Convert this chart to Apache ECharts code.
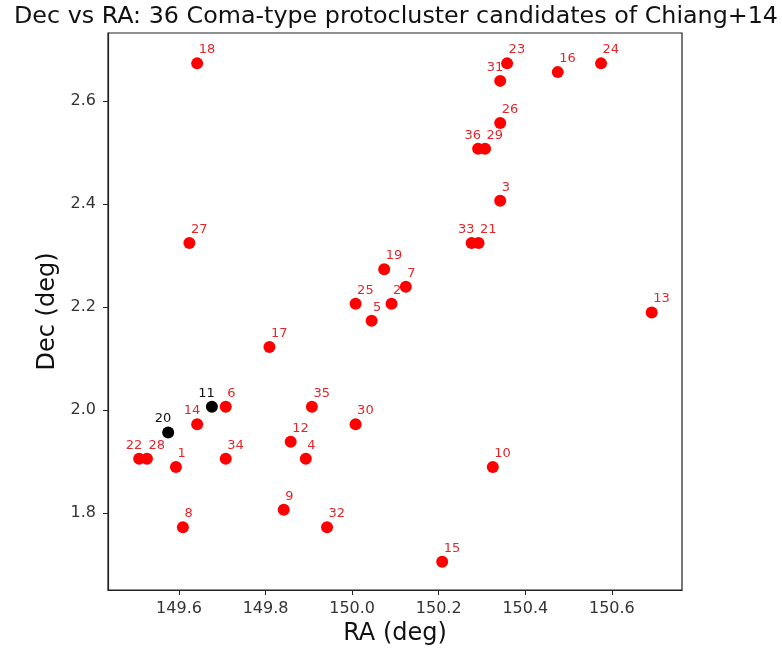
<!DOCTYPE html>
<html>
<head>
<meta charset="utf-8">
<script src="https://cdn.jsdelivr.net/npm/echarts@6/dist/echarts.min.js"></script>
<style>
  html, body { margin: 0; padding: 0; background: #fff; }
  #chart { width: 782px; height: 652px; }
</style>
</head>
<body>
<div id="chart"></div>
<script>
  // candidate numbers, RA and Dec
  var ids = [1, 2, 3, 4, 5, 6, 7, 8, 9, 10, 11, 12, 13, 14, 15, 16, 17, 18,
             19, 20, 21, 22, 23, 24, 25, 26, 27, 28, 29, 30, 31, 32, 33, 34, 35, 36];
  var ra = [149.593, 150.091, 150.342, 149.893, 150.045, 149.708, 150.124, 149.609, 149.842, 150.325,
            149.676, 149.858, 150.692, 149.642, 150.208, 150.475, 149.809, 149.642, 150.074, 149.575,
            150.292, 149.508, 150.358, 150.575, 150.008, 150.342, 149.624, 149.526, 150.307, 150.008,
            150.342, 149.942, 150.276, 149.708, 149.907, 150.291];
  var dec = [1.889, 2.206, 2.406, 1.905, 2.173, 2.006, 2.239, 1.772, 1.806, 1.889,
             2.006, 1.938, 2.189, 1.972, 1.705, 2.656, 2.122, 2.673, 2.273, 1.956,
             2.324, 1.905, 2.673, 2.673, 2.206, 2.557, 2.324, 1.905, 2.507, 1.972,
             2.639, 1.772, 2.324, 1.905, 2.006, 2.507];
  // these two are drawn in black
  var blackIds = [11, 20];
  // labels that sit on the left side of their dot
  var leftLabelIds = [11, 14, 20, 22, 31, 33, 36];

  var xTicks = [149.6, 149.8, 150.0, 150.2, 150.4, 150.6];
  var yTicks = [1.8, 2.0, 2.2, 2.4, 2.6];

  var font = 'DejaVu Sans';

  var points = ids.map(function (id, i) {
    var black = blackIds.indexOf(id) >= 0;
    var left = leftLabelIds.indexOf(id) >= 0;
    return {
      value: [ra[i], dec[i]],
      name: String(id),
      itemStyle: { color: black ? '#000000' : '#ff0000' },
      label: {
        color: black ? '#111111' : '#e3262c',
        align: left ? 'right' : 'left',
        position: left ? [9, -1] : [7.5, -1]
      }
    };
  });

  var chart = echarts.init(document.getElementById('chart'), null, { renderer: 'canvas' });
  chart.setOption({
    animation: false,
    backgroundColor: '#ffffff',
    title: {
      text: 'Dec vs RA: 36 Coma-type protocluster candidates of Chiang+14',
      left: 391,
      textAlign: 'center',
      top: 0,
      textStyle: { fontFamily: font, fontSize: 23.8, fontWeight: 'normal', color: '#111' }
    },
    grid: {
      left: 108, right: 100, top: 33, bottom: 62,
      outerBoundsMode: 'none',
      containLabel: false,
      show: true, borderColor: '#222', borderWidth: 1.2, backgroundColor: '#fff'
    },
    xAxis: {
      type: 'value',
      min: 149.436,
      max: 150.762,
      name: 'RA (deg)',
      nameLocation: 'middle',
      nameGap: 31,
      nameTextStyle: { fontFamily: font, fontSize: 24, color: '#111' },
      axisLine: { show: true, lineStyle: { color: '#222', width: 1.2 } },
      axisTick: { show: true, length: 5, customValues: xTicks, lineStyle: { color: '#222' } },
      axisLabel: {
        customValues: xTicks,
        fontFamily: font, fontSize: 16, color: '#333', margin: 11,
        formatter: function (v) { return v.toFixed(1); }
      },
      splitLine: { show: false }
    },
    yAxis: {
      type: 'value',
      min: 1.650,
      max: 2.732,
      name: 'Dec (deg)',
      nameLocation: 'middle',
      nameGap: 45,
      nameRotate: 90,
      nameTextStyle: { fontFamily: font, fontSize: 24, color: '#111' },
      axisLine: { show: true, lineStyle: { color: '#222', width: 1.2 } },
      axisTick: { show: true, length: 5, customValues: yTicks, lineStyle: { color: '#222' } },
      axisLabel: {
        customValues: yTicks,
        fontFamily: font, fontSize: 16, color: '#333', margin: 12,
        formatter: function (v) { return v.toFixed(1); }
      },
      splitLine: { show: false }
    },
    series: [{
      type: 'scatter',
      symbol: 'circle',
      symbolSize: 12,
      itemStyle: { opacity: 1 },
      data: points,
      label: {
        show: true,
        formatter: '{b}',
        verticalAlign: 'bottom',
        fontFamily: font,
        fontSize: 13
      },
      labelLayout: { hideOverlap: false }
    }]
  });
</script>
</body>
</html>
